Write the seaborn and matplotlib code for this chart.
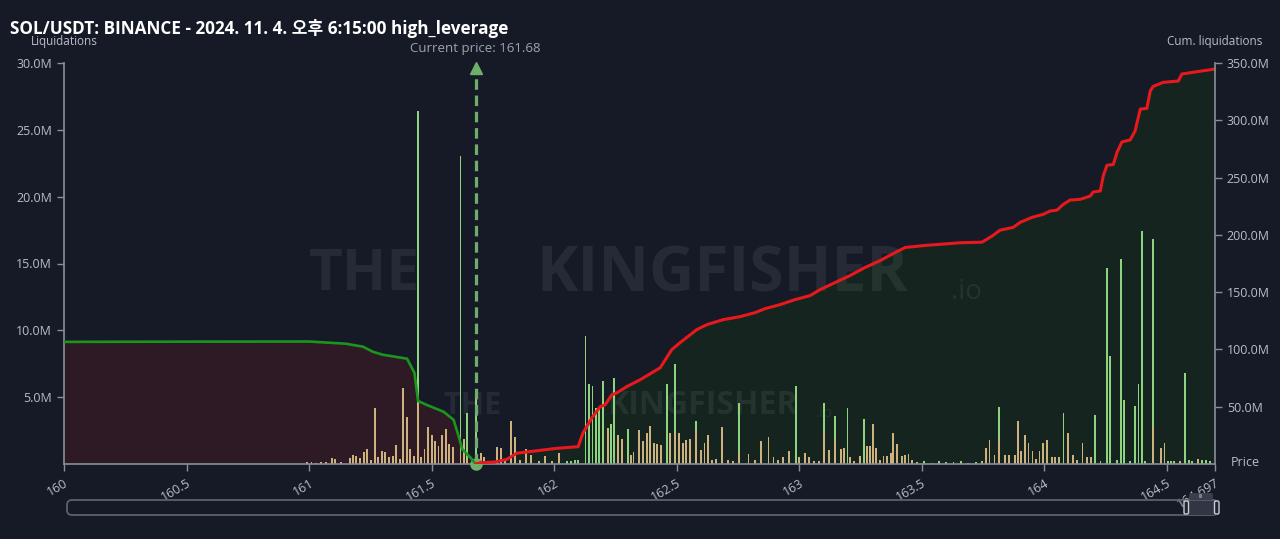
###*** liquidation map, SOL/USDT on binance
import numpy as np
import pandas as pd
import seaborn as sns
import matplotlib.pyplot as plt
from matplotlib.patches import FancyBboxPatch

### bars: price bin, tan part and green part (millions, stacked)
bar_price = [160.99, 161.01, 161.03, 161.05, 161.07, 161.093, 161.106, 161.13, 161.167, 161.178,
             161.192, 161.208, 161.224, 161.238, 161.252, 161.268, 161.283, 161.298, 161.31, 161.325,
             161.342, 161.355, 161.37, 161.385, 161.399, 161.412, 161.428, 161.444, 161.456, 161.471,
             161.487, 161.501, 161.514, 161.528, 161.544, 161.558, 161.571, 161.587, 161.618, 161.633,
             161.646, 161.68, 161.701, 161.714, 161.735, 161.766, 161.782, 161.80, 161.824, 161.841,
             161.86, 161.887, 161.905, 161.938, 161.963, 161.99, 162.021, 162.053, 162.069, 162.086,
             162.099, 162.128, 162.143, 162.157, 162.171, 162.184, 162.20, 162.219, 162.231, 162.244,
             162.262, 162.277, 162.303, 162.313, 162.324, 162.348, 162.363, 162.378, 162.393, 162.407,
             162.42, 162.437, 162.462, 162.473, 162.494, 162.51, 162.525, 162.539, 162.554, 162.58,
             162.599, 162.614, 162.629, 162.645, 162.66, 162.686, 162.71, 162.73, 162.755, 162.793,
             162.82, 162.845, 162.875, 162.895, 162.915, 162.935, 162.96, 162.987, 162.999, 163.024,
             163.04, 163.06, 163.08, 163.103, 163.123, 163.147, 163.171, 163.182, 163.197, 163.207,
             163.225, 163.248, 163.265, 163.276, 163.289, 163.30, 163.314, 163.33, 163.344, 163.358,
             163.374, 163.384, 163.399, 163.419, 163.433, 163.446, 163.46, 163.48, 163.51, 163.54,
             163.57, 163.60, 163.63, 163.66, 163.69, 163.72, 163.745, 163.762, 163.777, 163.797,
             163.817, 163.841, 163.858, 163.882, 163.894, 163.907, 163.922, 163.936, 163.952, 163.966,
             163.981, 163.996, 164.011, 164.031, 164.045, 164.06, 164.079, 164.097, 164.117, 164.133,
             164.156, 164.174, 164.191, 164.209, 164.23, 164.256, 164.269, 164.297, 164.314, 164.327,
             164.35, 164.371, 164.385, 164.399, 164.412, 164.444, 164.476, 164.491, 164.504, 164.518,
             164.531, 164.555, 164.576, 164.59, 164.604, 164.627, 164.645, 164.661, 164.678]
bar_tan = [0.12, 0.15, 0.1, 0.18, 0.12, 0.43, 0.35, 0.15, 0.43, 0.68,
           0.6, 0.48, 0.87, 1.12, 0.3, 4.2, 0.5, 1.0, 0.93, 0.5,
           0.63, 1.4, 0.4, 5.7, 3.5, 1.1, 0.6, 4.5, 0.55, 1.1,
           2.75, 2.2, 1.7, 1.35, 2.2, 2.6, 1.5, 1.3, 0.5, 1.9,
           0.3, 0, 0.8, 0.5, 0.2, 1.25, 1.2, 0.3, 3.2, 2.0,
           0.3, 1.1, 0.7, 0.2, 0.6, 0.2, 0.8, 0, 0, 0,
           0, 0, 0, 0, 0, 0, 0, 2.7, 0, 0,
           2.2, 1.9, 0, 0.7, 0.9, 2.55, 1.7, 2.3, 2.85, 1.6,
           1.5, 1.4, 0, 2.3, 2.3, 2.35, 1.55, 1.8, 1.85, 2.5,
           1.05, 1.55, 2.2, 0.3, 0.4, 2.8, 0.3, 0.2, 0.8, 0.75,
           0.3, 1.75, 2.0, 0.5, 0.3, 0.5, 1.0, 0, 0.5, 0.8,
           0.55, 0.2, 0.25, 2.35, 1.05, 1.9, 1.1, 1.2, 0, 0.5,
           0.2, 0.6, 0, 1.35, 1.35, 3.0, 1.2, 0.3, 0.6, 0.6,
           0.85, 2.3, 1.5, 0.6, 0.65, 0.75, 0.3, 0, 0, 0.1,
           0, 0.12, 0, 0, 0.1, 0, 0.2, 1.2, 1.8, 0.7,
           1.85, 0.7, 0.7, 0.7, 3.2, 1.0, 2.2, 1.6, 1.0, 0.4,
           1.0, 1.55, 1.8, 0.55, 0.5, 0.55, 0, 2.3, 0.7, 0.3,
           1.55, 0.5, 0.5, 0, 0, 0, 0, 0, 0, 0,
           0, 0, 0, 0, 0, 2.7, 1.2, 1.55, 0, 0,
           0, 0.2, 0, 0, 0, 0.4, 0, 0, 0]
bar_green = [0, 0, 0, 0, 0, 0, 0, 0, 0, 0,
             0, 0, 0, 0, 0, 0, 0, 0, 0, 0,
             0, 0, 0, 0, 0, 0, 0, 21.9, 0, 0,
             0, 0, 0, 0, 0, 0, 0, 0, 22.55, 0,
             3.5, 5.2, 0, 0, 0, 0, 0, 0, 0, 0,
             0, 0, 0, 0, 0, 0, 0, 0.2, 0.25, 0.3,
             0.3, 9.55, 6.0, 5.85, 4.2, 4.1, 6.2, 0, 3.0, 6.4,
             0, 0, 2.6, 0, 0, 0, 0, 0, 0, 0,
             0, 0, 6.0, 0, 5.2, 0, 0, 0, 0, 0.75,
             0, 0, 0, 0, 0, 0, 0, 0, 3.75, 0,
             0, 0, 0, 0, 0, 0, 0, 5.8, 0, 0,
             0, 0, 0, 2.25, 0, 1.7, 0, 0, 4.2, 0,
             0, 0, 3.35, 0, 0, 0, 0, 0, 0, 0,
             0, 0, 0, 0, 0, 0, 0, 0.15, 0.2, 0,
             0.2, 0, 0.15, 0.2, 0, 0.15, 0, 0, 0, 0,
             2.4, 0, 0, 0, 0, 0, 0, 0, 0, 0,
             0, 0, 0, 0, 0, 0, 3.85, 0, 0, 0,
             0, 0, 0, 3.7, 0.2, 14.7, 8.05, 0.3, 15.3, 4.8,
             0.2, 4.35, 6.0, 17.4, 0.2, 14.15, 0, 0, 0.25, 0.25,
             0.25, 0, 6.8, 0.3, 0.25, 0, 0.3, 0.3, 0.25]

### cumulative liquidations (millions)
long_price = [160.0, 160.5, 161.0, 161.15, 161.22, 161.26, 161.3, 161.4, 161.43, 161.445,
              161.48, 161.55, 161.59, 161.61, 161.625, 161.66, 161.68]
long_cum = [106.6, 106.8, 106.9, 105.0, 102.4, 98.0, 95.4, 91.9, 79.6, 55.0,
            51.6, 45.5, 38.5, 24.5, 13.0, 5.3, 0.0]
short_price = [161.68, 161.698, 161.759, 161.807, 161.848, 161.889, 162.011, 162.098, 162.118, 162.154,
               162.188, 162.208, 162.236, 162.256, 162.297, 162.351, 162.433, 162.48, 162.514, 162.582,
               162.623, 162.69, 162.759, 162.82, 162.861, 162.922, 162.984, 163.045, 163.086, 163.147,
               163.208, 163.269, 163.331, 163.392, 163.433, 163.514, 163.657, 163.746, 163.787, 163.82,
               163.873, 163.902, 163.95, 163.996, 164.024, 164.052, 164.078, 164.106, 164.147, 164.188,
               164.2, 164.229, 164.241, 164.256, 164.282, 164.297, 164.317, 164.351, 164.371, 164.392,
               164.419, 164.433, 164.445, 164.486, 164.547, 164.562, 164.608, 164.697]
short_cum = [0.0, 1.1, 1.75, 4.1, 9.4, 10.5, 13.7, 15.1, 27.1, 40.25,
             50.1, 51.6, 60.4, 62.1, 67.6, 73.5, 84.0, 99.75, 105.9, 117.25,
             121.6, 126.0, 128.6, 132.1, 135.6, 139.1, 143.5, 147.0, 152.25, 158.4,
             164.5, 171.5, 177.6, 184.6, 189.0, 190.75, 193.1, 193.6, 198.9, 204.1,
             206.5, 210.9, 215.25, 217.9, 220.8, 221.6, 226.6, 230.4, 231.0, 233.9,
             237.4, 238.3, 251.4, 260.75, 261.4, 271.9, 281.1, 282.9, 290.8, 309.75,
             310.4, 325.8, 329.6, 333.1, 334.25, 340.4, 341.9, 344.75]

current_price = 161.68
x_ticks = [160, 160.5, 161, 161.5, 162, 162.5, 163, 163.5, 164, 164.5, 164.697]
x_labels = ['160', '160.5', '161', '161.5', '162', '162.5', '163', '163.5', '164', '164.5', '164.697']
left_ticks = [5, 10, 15, 20, 25, 30]
right_ticks = [50, 100, 150, 200, 250, 300, 350]

BG = '#161a27'
GRID = '#8a8e99'
TXT = '#b9bdc7'

sns.set_theme(style='dark', rc={'figure.facecolor': BG, 'axes.facecolor': BG})
plt.rcParams['font.family'] = ['Open Sans', 'Noto Sans CJK KR', 'DejaVu Sans']

fig = plt.figure(figsize=(12.8, 5.39), dpi=100)
ax = fig.add_axes([64 / 1280, 75 / 539, 1151 / 1280, 401 / 539])
ax3 = ax.twinx()   # fills, at the back
ax2 = ax.twinx()   # cumulative lines, on top
ax3.set_zorder(0)
ax.set_zorder(1)
ax2.set_zorder(2)
for a in (ax, ax2, ax3):
    a.patch.set_visible(False)
    a.grid(False)

### filled areas under the cumulative curves
ax3.fill_between(long_price, long_cum, 0, color='#2d1a24', lw=0)
ax3.fill_between(short_price, short_cum, 0, color='#15241f', lw=0)
ax3.set_ylim(0, 350)
ax3.set_axis_off()

### watermark
wm = dict(color='white', alpha=0.07, fontweight='bold', ha='center', va='center', zorder=3,
          family=['Open Sans', 'DejaVu Sans'])
ax3.text(161.225, 165, 'THE', fontsize=42, **wm)
ax3.text(162.686, 165, 'KINGFISHER', fontsize=45, **wm)
ax3.text(163.62, 150, '.io', fontsize=20, color='white', alpha=0.07, va='center', zorder=3)
ax3.text(161.665, 51, 'THE', fontsize=22, **wm)
ax3.text(162.605, 51, 'KINGFISHER', fontsize=23, **wm)
ax3.text(163.07, 44, '.io', fontsize=11, color='white', alpha=0.07, va='center', zorder=3)

### liquidation bars
bars = pd.DataFrame({'price': bar_price, 'tan': bar_tan, 'green': bar_green})
bars['total'] = bars['tan'] + bars['green']
bw = 0.0075 / np.min(np.diff(np.sort(bars['price'].values)))
sns.barplot(data=bars, x='price', y='total', native_scale=True, orient='x', color='#8ed47f',
            saturation=1, width=bw, linewidth=0, errorbar=None, ax=ax)
sns.barplot(data=bars, x='price', y='tan', native_scale=True, orient='x', color='#cdb27e',
            saturation=1, width=bw, linewidth=0, errorbar=None, ax=ax)

### cumulative lines
sns.lineplot(x=long_price, y=long_cum, color='#1c951f', lw=1.9, ax=ax2)
sns.lineplot(x=short_price, y=short_cum, color='#e8191c', lw=2.2, ax=ax2)

### current price arrow
ax.plot([current_price, current_price], [0, 29.3], color='#6fae6a', lw=2.3, ls=(0, (3.3, 1.8)), zorder=5)
ax.plot(current_price, 29.6, marker='^', ms=9, color='#6fae6a', zorder=5, clip_on=False)
ax.plot(current_price, 0, marker='o', ms=8, color='#6fae6a', zorder=6, clip_on=False)
ax.text(current_price, 31.05, 'Current price: 161.68', ha='center', va='center',
        color='#9ea3ad', fontsize=9.5, clip_on=False)

### axes
ax.set_xlim(160, 164.697)
ax.set_ylim(0, 30)
ax2.set_ylim(0, 350)
ax.set_xlabel('')
ax.set_ylabel('')
ax2.set_ylabel('')
ax.set_xticks(x_ticks)
ax.set_xticklabels(x_labels, rotation=30, ha='right', rotation_mode='anchor')
ax.set_yticks(left_ticks)
ax.set_yticklabels(['%.1fM' % v for v in left_ticks])
ax2.set_yticks(right_ticks)
ax2.set_yticklabels(['%.1fM' % v for v in right_ticks])
ax.tick_params(axis='both', colors=GRID, labelcolor=TXT, labelsize=9, length=5, width=1, direction='out',
               bottom=True, left=True)
ax.tick_params(axis='x', pad=4)
ax2.tick_params(axis='y', colors=GRID, labelcolor=TXT, labelsize=9, length=5, width=1, right=True)
for a in (ax, ax2):
    for s in a.spines.values():
        s.set_visible(False)
ax.spines['left'].set_visible(True)
ax.spines['bottom'].set_visible(True)
ax2.spines['right'].set_visible(True)
for s in (ax.spines['left'], ax.spines['bottom'], ax2.spines['right']):
    s.set_color(GRID)
    s.set_linewidth(1.2)

### texts around the chart
fig.text(10 / 1280, 1 - 28 / 539, 'SOL/USDT: BINANCE - 2024. 11. 4. 오후 6:15:00 high_leverage',
         color='white', fontsize=12.3, fontweight='bold', va='center')
fig.text(64 / 1280, 1 - 42 / 539, 'Liquidations', color=TXT, fontsize=8.5, ha='center', va='center')
fig.text(1215 / 1280, 1 - 42 / 539, 'Cum. liquidations', color=TXT, fontsize=8.5, ha='center', va='center')
fig.text(1245 / 1280, 1 - 463 / 539, 'Price', color=TXT, fontsize=9, ha='center', va='center')

### scrollbar under the chart (inches, 100 px each)
t = fig.dpi_scale_trans
fig.patches.append(FancyBboxPatch((0.67, 0.24), 11.51, 0.15, boxstyle='round,pad=0,rounding_size=0.05',
                                  fc='none', ec='#5c606c', lw=1.3, transform=t, figure=fig))
fig.patches.append(FancyBboxPatch((11.86, 0.245), 0.31, 0.14, boxstyle='square,pad=0',
                                  fc='#323644', ec='none', transform=t, figure=fig))
fig.patches.append(FancyBboxPatch((11.89, 0.39), 0.24, 0.07, boxstyle='round,pad=0,rounding_size=0.02',
                                  fc='#3a3e4a', ec='none', transform=t, figure=fig))
for hx in (11.84, 12.145):
    fig.patches.append(FancyBboxPatch((hx, 0.25), 0.045, 0.13, boxstyle='round,pad=0,rounding_size=0.015',
                                      fc='#20242f', ec='#c8ccd4', lw=1, transform=t, figure=fig))
fig.text(12.01 / 12.8, 0.425 / 5.39, 'III', color='#c8ccd4', fontsize=4, ha='center', va='center')

fig.savefig('out.png', dpi=100, facecolor=BG)
